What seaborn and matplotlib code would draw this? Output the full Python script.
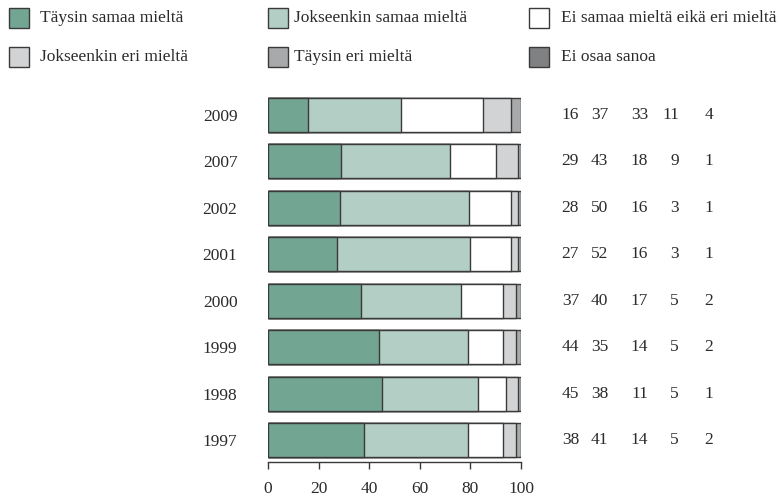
import numpy as np
import pandas as pd
import matplotlib
matplotlib.use("Agg")
import matplotlib.pyplot as plt
import seaborn as sns
from matplotlib.patches import Rectangle

years = ["2009", "2007", "2002", "2001", "2000", "1999", "1998", "1997"]
taysin_samaa = [16, 29, 28, 27, 37, 44, 45, 38]
jokseenkin_samaa = [37, 43, 50, 52, 40, 35, 38, 41]
ei_samaa_eika_eri = [33, 18, 16, 16, 17, 14, 11, 14]
jokseenkin_eri = [11, 9, 3, 3, 5, 5, 5, 5]
taysin_eri = [4, 1, 1, 1, 2, 2, 1, 2]

categories = ["Täysin samaa mieltä", "Jokseenkin samaa mieltä",
              "Ei samaa mieltä eikä eri mieltä", "Jokseenkin eri mieltä",
              "Täysin eri mieltä", "Ei osaa sanoa"]
colors = ["#72a693", "#b3cec4", "#ffffff", "#d2d3d5", "#a8a9ab", "#808183"]
xticks = [0, 20, 40, 60, 80, 100]

sns.set_theme(style="white")
plt.rcParams['font.family'] = ['Liberation Serif', 'DejaVu Serif']
TXT = "#2b2b2b"
EDGE = "#3a3a3a"
FS = 12.5

series = [taysin_samaa, jokseenkin_samaa, ei_samaa_eika_eri, jokseenkin_eri, taysin_eri]
raw = np.array(series, dtype=float)          # shape (5, 8)
shares = raw / raw.sum(axis=0) * 100          # bars are scaled to 100 %
cum = np.cumsum(shares, axis=0)

fig = plt.figure(figsize=(7.79, 4.96), dpi=100)
W, H = 779, 496
ax_left, ax_right = 268, 521
ax_top, ax_bot = 91.8, 462
ax = fig.add_axes([ax_left / W, 1 - ax_bot / H, (ax_right - ax_left) / W, (ax_bot - ax_top) / H])

# draw stacked bars: largest cumulative first
for i in range(len(series) - 1, -1, -1):
    df = pd.DataFrame({"year": years, "value": cum[i]})
    sns.barplot(data=df, x="value", y="year", order=years, orient="h",
                color=colors[i], edgecolor=EDGE, linewidth=1.0,
                width=0.73, saturation=1, ax=ax)

ax.set_xlim(0, 100)
ax.set_ylim(7.474, -0.5)
ax.set_xlabel("")
ax.set_ylabel("")
for s in ["top", "right", "left"]:
    ax.spines[s].set_visible(False)
ax.spines["bottom"].set_color(EDGE)
ax.spines["bottom"].set_linewidth(1.0)
ax.set_xticks(xticks)
ax.set_xticklabels([str(t) for t in xticks], fontsize=FS, color=TXT)
ax.tick_params(axis="x", direction="out", length=5, width=1, color=EDGE, pad=8.5, bottom=True)
ax.tick_params(axis="y", length=0, pad=22, labelsize=FS, labelcolor=TXT)
ax.grid(False)

# numeric value columns on the right (right aligned, pixel positions)
col_px = [579, 608, 648, 679, 713]
for j, yr in enumerate(years):
    for k in range(len(series)):
        xd = (col_px[k] - ax_left) / (ax_right - ax_left) * 100
        ax.text(xd, j, str(series[k][j]), ha="right", va="center",
                fontsize=FS, color=TXT, clip_on=False)

# legend (3 columns x 2 rows)
leg_pos = [(9, 8, 40), (268, 8, 294), (529, 8, 561),
           (9, 47, 40), (268, 47, 294), (529, 47, 561)]
for (sx, sy, tx), lab, c in zip(leg_pos, categories, colors):
    fig.add_artist(Rectangle((sx / W, 1 - (sy + 20) / H), 20 / W, 20 / H,
                             transform=fig.transFigure, facecolor=c,
                             edgecolor=EDGE, linewidth=1.0))
    fig.text(tx / W, 1 - (sy + 10) / H, lab, ha="left", va="center",
             fontsize=12.5, color=TXT)

fig.savefig("out.png", dpi=100)
